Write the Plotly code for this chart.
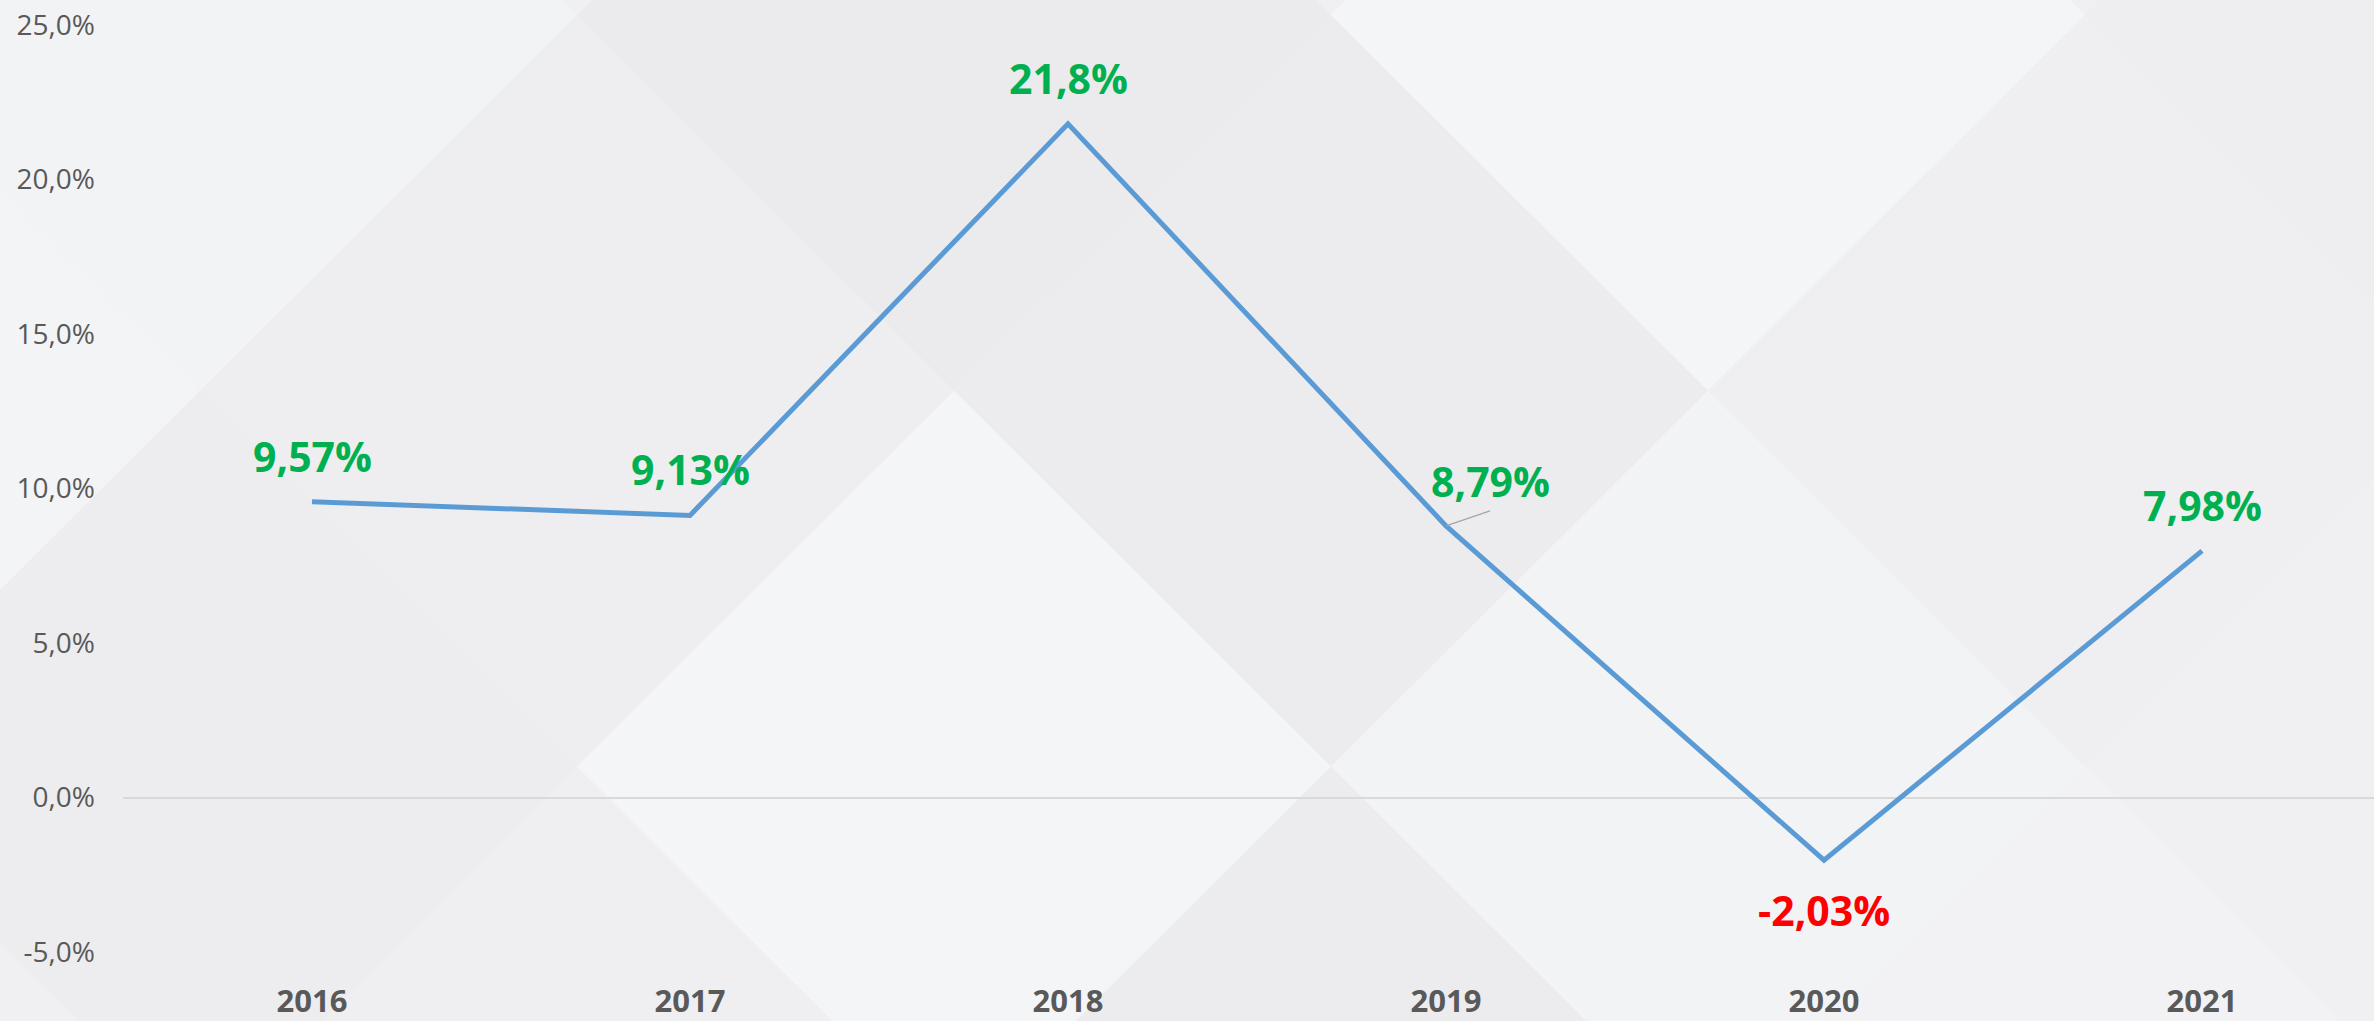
import plotly.graph_objects as go

# ---- data ----
years = ["2016", "2017", "2018", "2019", "2020", "2021"]
growth = [9.57, 9.13, 21.8, 8.79, -2.03, 7.98]
labels = ["9,57%", "9,13%", "21,8%", "8,79%", "-2,03%", "7,98%"]
ytick_vals = [-5, 0, 5, 10, 15, 20, 25]
ytick_text = ["-5,0%", "0,0%", "5,0%", "10,0%", "15,0%", "20,0%", "25,0%"]

W, H = 2374, 1021
ML, MR, MT, MB = 123, 0, 25, 66
PW, PH = W - ML - MR, H - MT - MB

def px(x):
    return (x - ML) / PW

def py(y):
    return 1 - (y - MT) / PH

fig = go.Figure()
fig.add_trace(go.Scatter(
    x=years, y=growth, mode="lines",
    line=dict(color="#5B9BD5", width=5),
    hoverinfo="skip", showlegend=False,
))

# background diamond tiles (decoration)
A = 377
CX, CY = 954, 769
tiles = {
    (-2, -2): "#F2F3F5", (0, -2): "#EBEBED", (2, -2): "#F4F5F7", (4, -2): "#EEEEF0",
    (-3, -1): "#F3F4F6", (-1, -1): "#EEEEF0", (1, -1): "#ECECEE", (3, -1): "#EFEFF1",
    (-2, 0): "#EDEDEF", (0, 0): "#F4F5F7", (2, 0): "#F2F3F5", (4, 0): "#F0F0F2",
    (-3, 1): "#F0F0F2", (-1, 1): "#EFEFF1", (1, 1): "#ECECEE", (3, 1): "#F2F2F4",
}
shapes = []
for (m, n), col in tiles.items():
    cx, cy = CX + A * m, CY + A * n
    pts = [(cx, cy - A), (cx + A, cy), (cx, cy + A), (cx - A, cy)]
    path = "M " + " L ".join(f"{px(a):.5f},{py(b):.5f}" for a, b in pts) + " Z"
    shapes.append(dict(type="path", path=path, xref="paper", yref="paper",
                       fillcolor=col, line=dict(width=0), layer="below"))

annotations = []
for i, (yr, v, t) in enumerate(zip(years, growth, labels)):
    color = "#FF0000" if v < 0 else "#00B050"
    font = dict(family="Open Sans", size=41, color=color, weight="bold")
    if yr == "2019":
        annotations.append(dict(x=i, y=v, xref="x", yref="y", text=t, font=font,
                                showarrow=True, arrowhead=0, arrowwidth=1.5,
                                arrowcolor="#A6A6A6", ax=44, ay=-15,
                                xanchor="center", yanchor="bottom", standoff=0))
    else:
        annotations.append(dict(x=i, y=v, xref="x", yref="y", text=t, font=font,
                                showarrow=False, yshift=(-50 if v < 0 else 46)))

fig.update_layout(
    width=W, height=H,
    margin=dict(l=ML, r=MR, t=MT, b=MB),
    paper_bgcolor="#F0F0F2",
    plot_bgcolor="rgba(0,0,0,0)",
    shapes=shapes,
    annotations=annotations,
    showlegend=False,
    xaxis=dict(
        type="category", range=[-0.5, 5.455], showgrid=False, zeroline=False,
        showline=False, ticks="",
        tickfont=dict(family="Open Sans", size=31, color="#595959", weight="bold"),
        ticklabelstandoff=28,
    ),
    yaxis=dict(
        range=[-5, 25], tickvals=ytick_vals, ticktext=ytick_text,
        showgrid=False, zeroline=True, zerolinecolor="#D9D9D9", zerolinewidth=2,
        showline=False, ticks="",
        tickfont=dict(family="Open Sans", size=28, color="#595959"),
        ticklabelstandoff=27,
    ),
)

fig.write_html("out.html", config={"displayModeBar": False},
               post_script="document.body.style.margin='0px';document.body.style.overflow='hidden';")
